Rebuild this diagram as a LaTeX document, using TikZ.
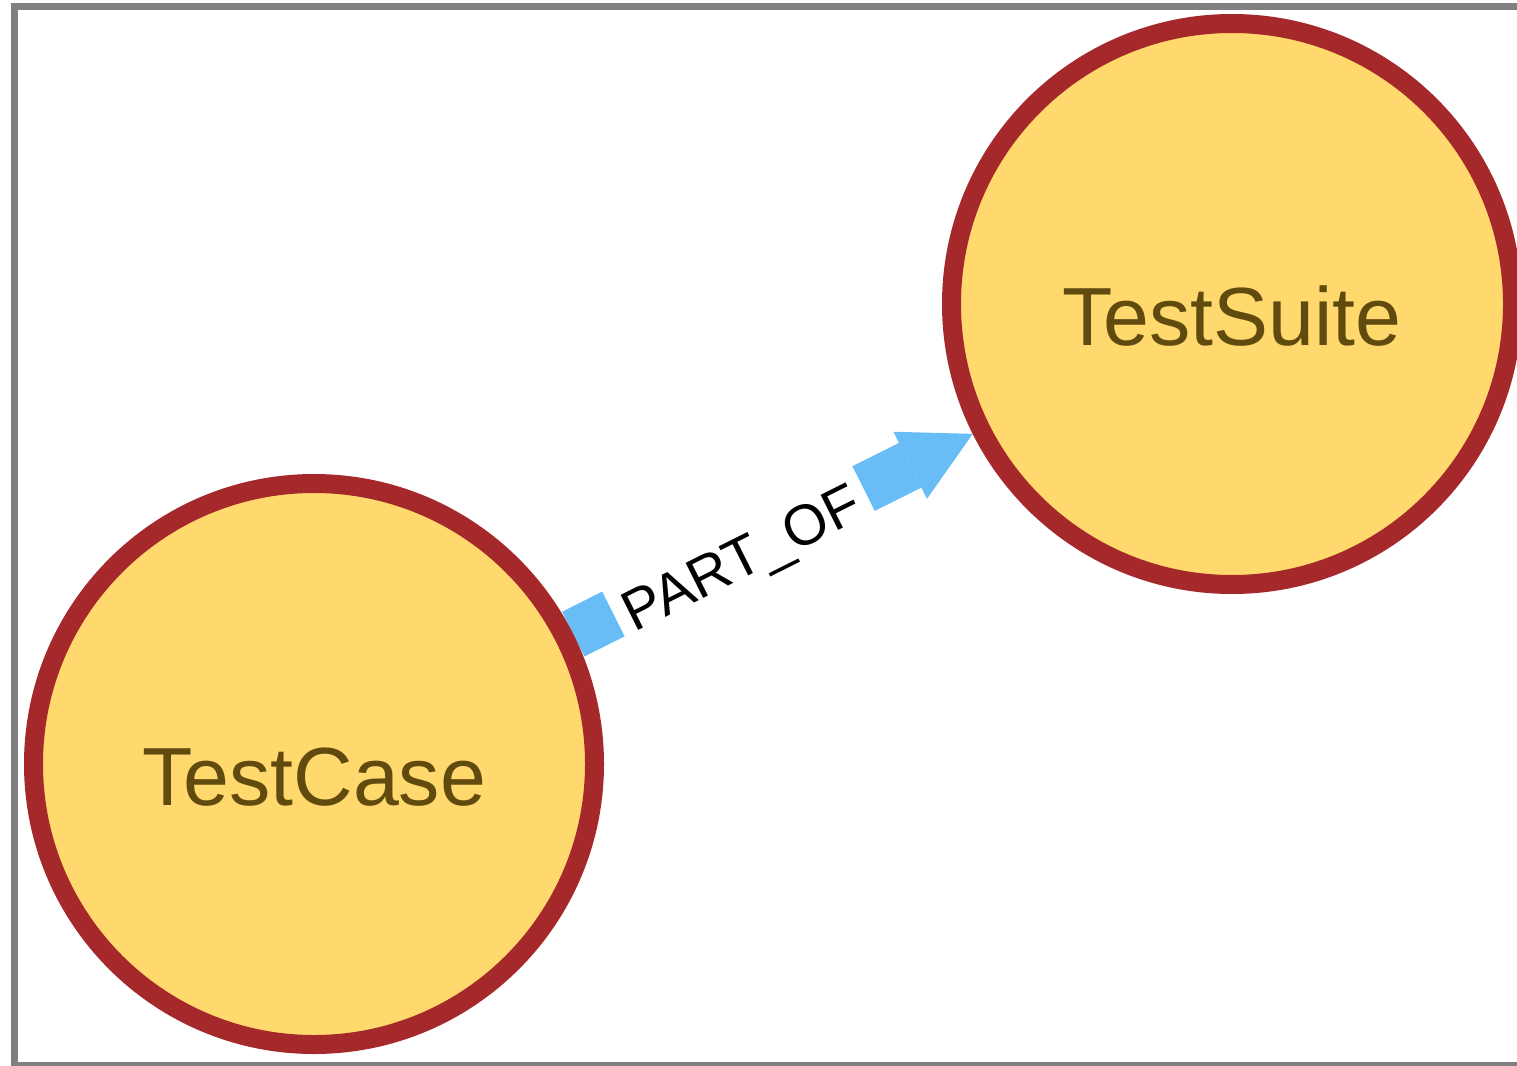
\documentclass[tikz,border=0pt]{standalone}
\usepackage{fontspec}
\setmainfont{Liberation Sans}
\usetikzlibrary{arrows.meta,backgrounds}
\definecolor{nodefill}{HTML}{FFD86E}
\definecolor{noderim}{HTML}{A5292A}
\definecolor{nodetext}{HTML}{604A0E}
\definecolor{relblue}{HTML}{68BDF6}
\definecolor{framegray}{HTML}{808080}
\begin{document}
\begin{tikzpicture}[x=1pt,y=-1pt,
  entity/.style={circle, draw=noderim, fill=nodefill, line width=19pt,
    minimum size=561pt, inner sep=0pt, text=nodetext,
    font=\fontsize{82.5}{95}\selectfont, text height=83pt, text depth=0pt},
  relation/.style={draw=relblue, line width=50pt,
    -{Triangle[width=75pt,length=70pt,line width=0pt]}},
  rellabel/.style={sloped, fill=white, text=black, inner xsep=11pt, inner ysep=0pt,
    text height=52pt, text depth=0pt, font=\fontsize{57}{60}\selectfont}]
  \useasboundingbox (0,0) rectangle (1517,1065);
  \clip (0,0) rectangle (1517,1065);
  % canvas and outer frame
  \begin{scope}[on background layer]
    \fill[white] (0,0) rectangle (1517,1065);
    \draw[framegray, line width=7pt] (14,7) rectangle (1560,1065.5);
  \end{scope}
  % entities
  \node[entity] (tc) at (314,764) {TestCase};
  \node[entity] (ts) at (1232,304) {TestSuite};
  % relationship, kept beneath the entity rims
  \begin{scope}[on background layer]
    \draw[relation] (tc) -- (ts);
  \end{scope}
  \path (tc) -- node[rellabel, pos=0.4136] (lbl) {PART\_OF} (ts);
\end{tikzpicture}
\end{document}
